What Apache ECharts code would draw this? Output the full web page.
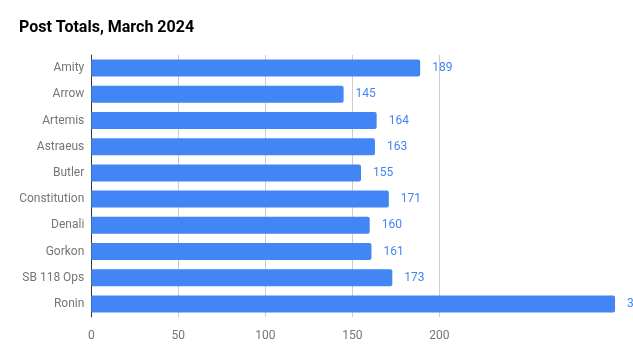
<!DOCTYPE html>
<html><head><meta charset="utf-8">
<script src="https://cdn.jsdelivr.net/npm/echarts@6/dist/echarts.min.js"></script>
<style>html,body{margin:0;padding:0;background:#fff}#c{width:633px;height:360px}</style>
</head><body><div id="c"></div>
<script>
const categories = ['Amity','Arrow','Artemis','Astraeus','Butler','Constitution','Denali','Gorkon','SB 118 Ops','Ronin'];
const postTotals = [189,145,164,163,155,171,160,161,173,301];
const xTicks = [0,50,100,150,200];

const chart = echarts.init(document.getElementById('c'), null, {renderer:'canvas'});
chart.setOption({
  animation:false,
  backgroundColor:'#fff',
  title:{text:'Post Totals, March 2024',left:19,top:20,padding:0,textStyle:{fontFamily:'Roboto',fontWeight:'bold',fontSize:16,color:'#000'}},
  grid:{left:91.3,right:193.7,top:55,height:262,containLabel:false},
  xAxis:{type:'value',min:xTicks[0],max:xTicks[xTicks.length-1],interval:50,
    axisLine:{show:false},axisTick:{show:false},
    splitLine:{lineStyle:{color:['transparent','#cccccc','#cccccc','#cccccc','#cccccc']}},
    axisLabel:{color:'#757575',fontFamily:'Roboto',fontSize:12,margin:13}},
  yAxis:{type:'category',data:categories,inverse:true,
    axisLine:{show:true,onZero:false,lineStyle:{color:'#333',width:1}},axisTick:{show:false},
    axisLabel:{color:'#757575',fontFamily:'Roboto',fontSize:12,margin:7}},
  series:[{type:'bar',data:postTotals,barWidth:17,clip:false,
    itemStyle:{color:'#4285f4',borderRadius:[0,2,2,0]},
    label:{show:true,position:'right',distance:12,color:'#4285f4',fontFamily:'Roboto',fontSize:12}}]
});
</script></body></html>
